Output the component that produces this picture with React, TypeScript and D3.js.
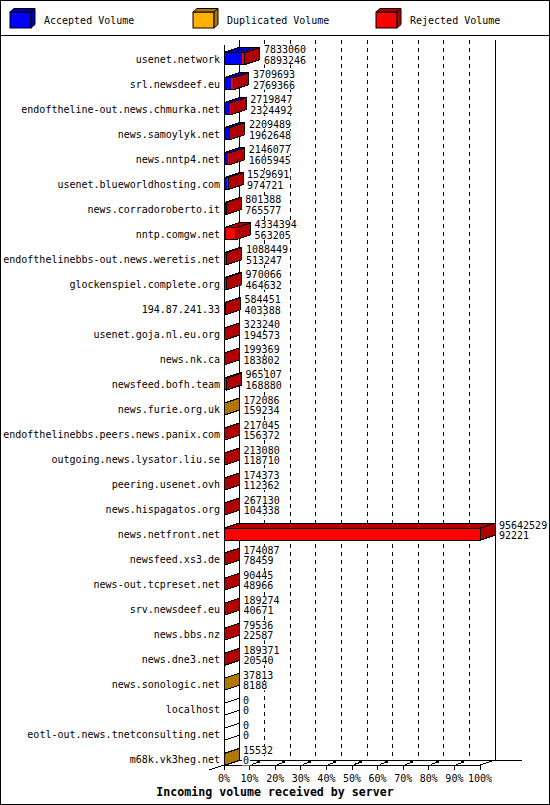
import { useEffect, useRef } from 'react'
import * as d3 from 'd3'

// servers, sorted by accepted volume as in the report
const SERVERS = [
  'usenet.network', 'srl.newsdeef.eu', 'endoftheline-out.news.chmurka.net', 'news.samoylyk.net',
  'news.nntp4.net', 'usenet.blueworldhosting.com', 'news.corradoroberto.it', 'nntp.comgw.net',
  'endofthelinebbs-out.news.weretis.net', 'glockenspiel.complete.org', '194.87.241.33',
  'usenet.goja.nl.eu.org', 'news.nk.ca', 'newsfeed.bofh.team', 'news.furie.org.uk',
  'endofthelinebbs.peers.news.panix.com', 'outgoing.news.lysator.liu.se', 'peering.usenet.ovh',
  'news.hispagatos.org', 'news.netfront.net', 'newsfeed.xs3.de', 'news-out.tcpreset.net',
  'srv.newsdeef.eu', 'news.bbs.nz', 'news.dne3.net', 'news.sonologic.net', 'localhost',
  'eotl-out.news.tnetconsulting.net', 'm68k.vk3heg.net',
]

// total incoming volume (upper label)
const TOTAL = [
  7833060, 3709693, 2719847, 2209489, 2146077, 1529691, 801388, 4334394, 1088449, 970066,
  584451, 323240, 199369, 965107, 172086, 217045, 213080, 174373, 267130, 95642529,
  174087, 90445, 189274, 79536, 189371, 37813, 0, 0, 15532,
]

// accepted volume (lower label)
const ACCEPTED = [
  6893246, 2769366, 2324492, 1962648, 1605945, 974721, 765577, 563205, 513247, 464632,
  403388, 194573, 183802, 168880, 159234, 156372, 118710, 112362, 104338, 92221,
  78459, 48966, 40671, 22587, 20540, 8188, 0, 0, 0,
]

const DUPLICATED = [
  0, 0, 0, 0, 0, 0, 0, 0, 0, 0,
  0, 0, 0, 0, 12852, 0, 0, 0, 0, 0,
  0, 0, 0, 0, 0, 29625, 0, 0, 15532,
]

const REJECTED = [
  939814, 940327, 395355, 246841, 540132, 554970, 35811, 3771189, 575202, 505434,
  181063, 128667, 15567, 796227, 0, 60673, 94370, 62011, 162792, 95550308,
  95628, 41479, 148603, 56949, 168831, 0, 0, 0, 0,
]

const SERIES = ['Accepted Volume', 'Duplicated Volume', 'Rejected Volume']
const PCT_TICKS = [0, 10, 20, 30, 40, 50, 60, 70, 80, 90, 100]
const TITLE = 'Incoming volume received by server'

const FILL = ['#0000ff', '#ffb000', '#ff0000']
const SHADE = ['#0000b0', '#b07800', '#b00000']
const MONO = '"DejaVu Sans Mono", "Liberation Mono", monospace'

const W = 550, H = 805
const DX = 15, DY = 5          // depth of the 3d plot
const BACK_TOP = 40, FLOOR = 765

export default function App() {
  const svgRef = useRef<SVGSVGElement>(null)

  useEffect(() => {
    const svg = d3.select(svgRef.current)
    svg.selectAll('*').remove()

    const maxV = d3.max(TOTAL) || 1
    const x = d3.scaleLinear().domain([0, maxV]).range([224, 480])
    const pct = d3.scaleLinear().domain([0, 100]).range([224, 480])
    const y = d3.scaleBand().domain(SERVERS).range([46, 772])
    const cy = (s: string) => (y(s) || 0) + y.bandwidth() / 2

    svg.append('rect').attr('x', 0.5).attr('y', 0.5).attr('width', W - 1).attr('height', H - 1)
      .attr('fill', '#fff').attr('stroke', '#000')

    // Legend
    SERIES.forEach((name, i) => {
      const lx = 10 + i * 183
      const g = svg.append('g')
      g.append('rect').attr('x', lx).attr('y', 12).attr('width', 21).attr('height', 16)
        .attr('fill', FILL[i]).attr('stroke', '#000')
      g.append('polygon').attr('points', `${lx},12 ${lx + 21},12 ${lx + 25},8.5 ${lx + 4},8.5`)
        .attr('fill', SHADE[i]).attr('stroke', '#000')
      g.append('polygon').attr('points', `${lx + 21},12 ${lx + 25},8.5 ${lx + 25},24.5 ${lx + 21},28`)
        .attr('fill', SHADE[i]).attr('stroke', '#000')
      g.append('text').attr('x', lx + 34).attr('y', 24).attr('font-family', MONO)
        .attr('font-size', '10px').text(name)
    })
    svg.append('line').attr('x1', 0).attr('x2', W).attr('y1', 35.5).attr('y2', 35.5).attr('stroke', '#000')

    const plot = svg.append('g').attr('shape-rendering', 'crispEdges')

    // Back plane: dashed grid, walls
    PCT_TICKS.slice(1, -1).forEach(t => {
      plot.append('line').attr('x1', pct(t) + DX).attr('x2', pct(t) + DX)
        .attr('y1', BACK_TOP).attr('y2', FLOOR - DY)
        .attr('stroke', '#000').attr('stroke-dasharray', '4,4')
    })
    plot.append('line').attr('x1', pct(0) + DX).attr('x2', pct(0) + DX)
      .attr('y1', BACK_TOP).attr('y2', FLOOR - DY).attr('stroke', '#000')
    plot.append('line').attr('x1', pct(100) + DX).attr('x2', pct(100) + DX)
      .attr('y1', BACK_TOP).attr('y2', FLOOR - DY).attr('stroke', '#000')
    plot.append('line').attr('x1', pct(0) + DX).attr('x2', pct(100) + DX + 27)
      .attr('y1', FLOOR - DY).attr('y2', FLOOR - DY).attr('stroke', '#000')

    // Floor / front axis
    plot.append('line').attr('x1', pct(0)).attr('x2', pct(100))
      .attr('y1', FLOOR).attr('y2', FLOOR).attr('stroke', '#000')
    plot.append('line').attr('x1', pct(0) - DX).attr('y1', FLOOR + DY)
      .attr('x2', pct(0) + DX).attr('y2', FLOOR - DY).attr('stroke', '#000')
    plot.append('line').attr('x1', pct(100)).attr('y1', FLOOR)
      .attr('x2', pct(100) + DX).attr('y2', FLOOR - DY).attr('stroke', '#000')
    plot.append('line').attr('x1', pct(0)).attr('x2', pct(0))
      .attr('y1', BACK_TOP + DY).attr('y2', FLOOR).attr('stroke', '#000')

    PCT_TICKS.forEach(t => {
      const tx = pct(t)
      plot.append('line').attr('x1', tx).attr('x2', tx).attr('y1', FLOOR).attr('y2', FLOOR + 5).attr('stroke', '#000')
      if (t < 100) {
        plot.append('line').attr('x1', tx + 2).attr('y1', FLOOR - 0.5)
          .attr('x2', tx + 8).attr('y2', FLOOR - 2.5).attr('stroke', '#000')
        plot.append('rect').attr('x', tx + 7).attr('y', FLOOR - 4).attr('width', 3).attr('height', 2).attr('fill', '#000')
      }
      svg.append('text').attr('x', tx).attr('y', 782).attr('text-anchor', 'middle')
        .attr('font-family', MONO).attr('font-size', '10px').text(`${t}%`)
    })

    // Bars
    SERVERS.forEach((s, i) => {
      const c = cy(s)
      const top = c - 6, bot = c + 6
      const vals = [ACCEPTED[i], DUPLICATED[i], REJECTED[i]]
      const bar = plot.append('g')
      let cum = 0
      vals.forEach((v, k) => {
        if (v <= 0) return
        const x0 = x(cum), x1 = x(cum + v)
        cum += v
        bar.append('rect').attr('x', x0).attr('y', top).attr('width', x1 - x0).attr('height', bot - top)
          .attr('fill', FILL[k])
        bar.append('polygon')
          .attr('points', `${x0},${top} ${x1},${top} ${x1 + DX},${top - DY} ${x0 + DX},${top - DY}`)
          .attr('fill', SHADE[k])
        bar.append('polygon')
          .attr('points', `${x1},${top} ${x1 + DX},${top - DY} ${x1 + DX},${bot - DY} ${x1},${bot}`)
          .attr('fill', SHADE[k])
      })
      const x0 = x(0), xe = x(TOTAL[i])
      const side = bar.append('polygon')
        .attr('points', `${xe},${top} ${xe + DX},${top - DY} ${xe + DX},${bot - DY} ${xe},${bot}`)
        .attr('stroke', '#000')
      side.attr('fill', TOTAL[i] > 0 ? 'none' : '#fff')
      bar.append('polygon')
        .attr('points', `${x0},${top} ${xe},${top} ${xe + DX},${top - DY} ${x0 + DX},${top - DY}`)
        .attr('fill', 'none').attr('stroke', '#000')
      bar.append('rect').attr('x', x0).attr('y', top).attr('width', xe - x0).attr('height', bot - top)
        .attr('fill', 'none').attr('stroke', '#000')

      // value labels
      const lx = xe + DX + 4
      ;[[TOTAL[i], c - 5.5], [ACCEPTED[i], c + 5]].forEach(([v, by]) => {
        const txt = String(v)
        svg.append('rect').attr('x', lx - 1).attr('y', by - 8).attr('width', txt.length * 6.02 + 2)
          .attr('height', 9).attr('fill', '#fff')
        svg.append('text').attr('x', lx).attr('y', by).attr('font-family', MONO)
          .attr('font-size', '10px').text(txt)
      })

      svg.append('text').attr('x', 220).attr('y', c + 4).attr('text-anchor', 'end')
        .attr('font-family', MONO).attr('font-size', '10px').text(s)
    })

    svg.append('text').attr('x', W / 2).attr('y', 796).attr('text-anchor', 'middle')
      .attr('font-family', MONO).attr('font-weight', 'bold').attr('font-size', '11.6px').text(TITLE)
  }, [])

  return (
    <div style={{ position: 'absolute', left: 0, top: 0 }}>
      <svg ref={svgRef} width={W} height={H} style={{ display: 'block' }} />
    </div>
  )
}
